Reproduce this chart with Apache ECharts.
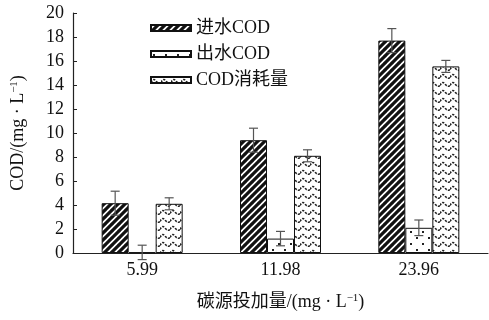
<!DOCTYPE html>
<html>
<head>
<meta charset="utf-8">
<style>
  html, body { margin: 0; padding: 0; background: #fff; }
  #chart { width: 489px; height: 320px; }
</style>
<script src="https://cdn.jsdelivr.net/npm/echarts@6/dist/echarts.min.js"></script>
</head>
<body>
<div id="chart"></div>
<script>
// Carbon source dosage (mg/L) and COD measurements
const categories = ['5.99', '11.98', '23.96'];
const seriesNames = ['进水COD', '出水COD', 'COD消耗量'];
const influentCOD = [4.15, 9.4, 17.7];
const effluentCOD = [0.05, 1.2, 2.1];
const consumedCOD = [4.1, 8.1, 15.55];
const influentErr = [1.0, 1.0, 1.0];
const effluentErr = [0.6, 0.6, 0.65];
const consumedErr = [0.5, 0.5, 0.5];
const yTicks = { min: 0, max: 20, interval: 2 };

const FONT = '"Liberation Serif", "Times New Roman", "Noto Sans CJK SC", serif';
const BAR_W = 27;

// Fill patterns for the three bar series
function makeCanvas(w, h, draw) {
  const c = document.createElement('canvas');
  c.width = w; c.height = h;
  const ctx = c.getContext('2d');
  ctx.fillStyle = '#fff';
  ctx.fillRect(0, 0, w, h);
  draw(ctx, w, h);
  return c;
}

const stripePattern = makeCanvas(7, 7, (ctx, w, h) => {
  ctx.strokeStyle = '#111';
  ctx.lineWidth = 3.2;
  ctx.beginPath();
  for (let k = -2; k <= 2; k++) {
    ctx.moveTo(k * w - 1, h + 1);
    ctx.lineTo(k * w + w + 1, -1);
  }
  ctx.stroke();
});

const dotPattern = makeCanvas(12, 12, (ctx) => {
  ctx.fillStyle = '#222';
  ctx.fillRect(2, 3, 2, 2);
  ctx.fillRect(8, 9, 2, 2);
});

const wavePattern = makeCanvas(10, 8, (ctx) => {
  ctx.strokeStyle = '#222';
  ctx.lineWidth = 1.6;
  ctx.setLineDash([2.2, 1.3]);
  ctx.beginPath();
  ctx.moveTo(0, 5.5);
  ctx.quadraticCurveTo(2.5, 0.5, 5, 4);
  ctx.quadraticCurveTo(7.5, 7.5, 10, 5.5);
  ctx.stroke();
});

const patterns = [stripePattern, dotPattern, wavePattern];
const values = [influentCOD, effluentCOD, consumedCOD];
const errors = [influentErr, effluentErr, consumedErr];

const barSeries = seriesNames.map((name, i) => ({
  name,
  type: 'bar',
  data: values[i],
  barWidth: BAR_W,
  barGap: '0%',
  itemStyle: {
    color: { image: patterns[i], repeat: 'repeat' },
    borderColor: '#111',
    borderWidth: 1
  },
  z: 2
}));

const errData = [];
values.forEach((vals, s) => {
  vals.forEach((v, c) => errData.push([c, v, errors[s][c], s]));
});

const errorSeries = {
  type: 'custom',
  name: 'error',
  data: errData,
  encode: { x: 0, y: 1 },
  z: 5,
  silent: true,
  renderItem(params, api) {
    const c = api.value(0), v = api.value(1), e = api.value(2), s = api.value(3);
    const offset = (s - 1) * BAR_W;
    const top = api.coord([c, v + e]);
    const bot = api.coord([c, v - e]);
    const x = top[0] + offset;
    const cap = 4.5;
    const style = { stroke: '#555', lineWidth: 1.2 };
    return {
      type: 'group',
      children: [
        { type: 'line', shape: { x1: x, y1: top[1], x2: x, y2: bot[1] }, style },
        { type: 'line', shape: { x1: x - cap, y1: top[1], x2: x + cap, y2: top[1] }, style },
        { type: 'line', shape: { x1: x - cap, y1: bot[1], x2: x + cap, y2: bot[1] }, style }
      ]
    };
  }
};

const supStyle = { fontFamily: FONT, fontSize: 11, verticalAlign: 'top', padding: [0, 0, 8, 0], color: '#111' };

const chart = echarts.init(document.getElementById('chart'), null, { renderer: 'canvas' });
chart.setOption({
  animation: false,
  backgroundColor: '#fff',
  textStyle: { fontFamily: FONT, color: '#111' },
  grid: { left: 73, right: 1, top: 13, bottom: 67, containLabel: false },
  legend: {
    data: seriesNames,
    orient: 'vertical',
    left: 145,
    top: 13,
    itemWidth: 40,
    itemHeight: 6,
    itemGap: 6,
    icon: 'rect',
    textStyle: { fontFamily: FONT, fontSize: 18, color: '#111', lineHeight: 20 }
  },
  xAxis: {
    type: 'category',
    data: categories,
    axisLine: { lineStyle: { color: '#222', width: 1.2 } },
    axisTick: { show: false },
    axisLabel: { fontFamily: FONT, fontSize: 18, color: '#111', margin: 8 },
    name: '碳源投加量/(mg · L{sup|−1})',
    nameLocation: 'middle',
    nameGap: 40,
    nameTextStyle: { fontFamily: FONT, fontSize: 18, color: '#111', rich: { sup: supStyle } }
  },
  yAxis: {
    type: 'value',
    min: yTicks.min,
    max: yTicks.max,
    interval: yTicks.interval,
    splitLine: { show: false },
    axisLine: { show: true, lineStyle: { color: '#222', width: 1.2 } },
    axisTick: { show: true, inside: true, length: 4, lineStyle: { color: '#222' } },
    axisLabel: { fontFamily: FONT, fontSize: 18, color: '#111', margin: 9 },
    name: 'COD/(mg · L{sup|−1})',
    nameLocation: 'middle',
    nameGap: 45,
    nameTextStyle: { fontFamily: FONT, fontSize: 18, color: '#111', rich: { sup: supStyle } }
  },
  series: [...barSeries, errorSeries]
});
</script>
</body>
</html>
